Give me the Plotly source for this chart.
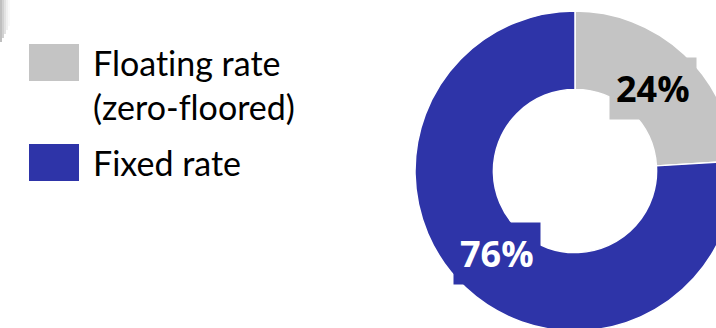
import math
import plotly.graph_objects as go

# Share of debt by interest-rate type
labels = ["Floating rate<br>(zero-floored)", "Fixed rate"]
values = [24, 76]
colors = ["#C4C4C4", "#2E34A8"]
label_font_colors = ["#000000", "#FFFFFF"]

# Canvas slightly larger than the visible window so the ring runs off the edge
W, H = 740, 340
CX, CY, R = 575, 171, 160      # ring centre / outer radius in px (from top-left)
HOLE = 0.51
LABEL_R = 0.71                 # label radius as fraction of outer radius

fig = go.Figure()
fig.add_trace(go.Pie(
    labels=labels,
    values=values,
    hole=HOLE,
    sort=False,
    direction="clockwise",
    rotation=0,
    marker=dict(colors=colors, line=dict(color="#FFFFFF", width=1.5)),
    textinfo="none",
    hoverinfo="label+percent",
    showlegend=False,
    domain=dict(x=[(CX - R) / W, (CX + R) / W],
                y=[(H - CY - R) / H, (H - CY + R) / H]),
))

# Percentage labels in boxes at each slice's mid-angle
total = sum(values)
cum = 0
annotations = []
for v, c, fc in zip(values, colors, label_font_colors):
    theta = 2 * math.pi * (cum + v / 2) / total
    cum += v
    px = CX + LABEL_R * R * math.sin(theta)
    py = CY - LABEL_R * R * math.cos(theta)
    annotations.append(dict(
        x=px / W, y=1 - py / H, xref="paper", yref="paper",
        text=f"<b>{round(100 * v / total)}%</b>", showarrow=False,
        font=dict(family="Open Sans", size=36, color=fc),
        bgcolor=c, borderpad=6, xanchor="center", yanchor="middle",
    ))

# Legend: coloured squares with labels
shapes = []
legend_tops = [44, 144]
for lab, c, top in zip(labels, colors, legend_tops):
    shapes.append(dict(type="rect", xref="paper", yref="paper",
                       x0=29 / W, x1=79 / W, y0=1 - (top + 37) / H, y1=1 - top / H,
                       fillcolor=c, line=dict(width=0)))
    annotations.append(dict(
        x=91 / W, y=1 - (top - 4) / H, xref="paper", yref="paper",
        text=lab, showarrow=False, align="left",
        font=dict(family="Lato", size=34, color="#000000"),
        xanchor="left", yanchor="top",
    ))

# Soft shadow edge in the top-left corner
for i, op in enumerate([0.45, 0.32, 0.2, 0.1, 0.04]):
    shapes.append(dict(type="rect", xref="paper", yref="paper",
                       x0=(2 * i) / W, x1=(2 * i + 2) / W,
                       y0=1 - (42 - 4 * i) / H, y1=1.0,
                       fillcolor="#707070", opacity=op, line=dict(width=0), layer="below"))

fig.update_layout(
    width=W, height=H,
    margin=dict(l=0, r=0, t=0, b=0),
    paper_bgcolor="#FFFFFF",
    plot_bgcolor="#FFFFFF",
    annotations=annotations,
    shapes=shapes,
)

fig.write_html(
    "out.html",
    config={"displayModeBar": False},
    post_script="document.body.style.margin='0';document.body.style.overflow='hidden';"
                "document.documentElement.style.overflow='hidden';"
                "document.querySelectorAll('.annotation-text').forEach(function(e){"
                "e.style.fontVariantLigatures='none';});",
)
